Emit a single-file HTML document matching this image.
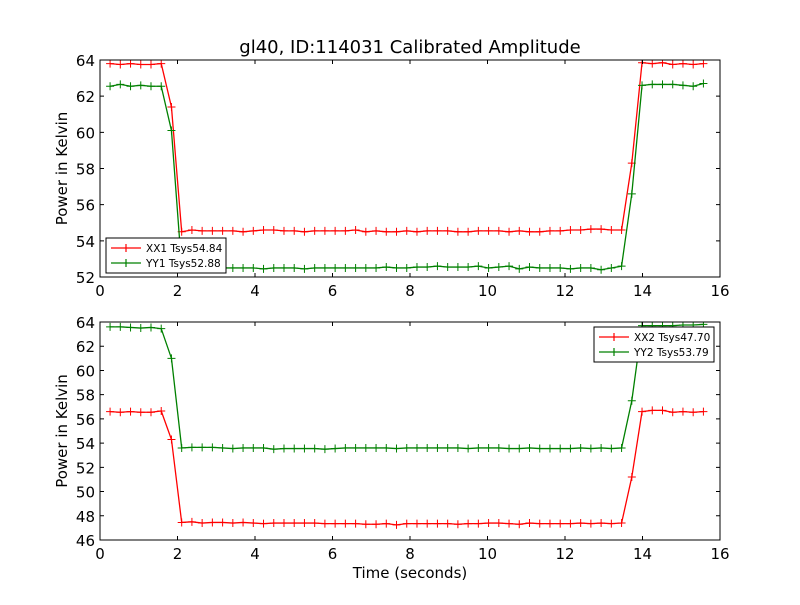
<!DOCTYPE html>
<html><head><meta charset="utf-8"><style>
html,body{margin:0;padding:0;background:#fff}
svg text{font-family:"DejaVu Sans","Liberation Sans",sans-serif}
</style></head><body>
<svg id="fig" width="800" height="600" viewBox="0 0 800 600" xmlns="http://www.w3.org/2000/svg">
<rect width="800" height="600" fill="#fff"/>
<text x="410" y="53" font-size="18" text-anchor="middle">gl40, ID:114031 Calibrated Amplitude</text>
<text x="410" y="578" font-size="15" text-anchor="middle">Time (seconds)</text>
<g id="top"></g><g id="bot"></g>
</svg>
<script>
const period = 0.264, t0 = 0.26;
const xx1 = [63.8,63.75,63.8,63.75,63.75,63.8,61.4,
54.5,54.6,54.55,54.55,54.55,54.55,54.5,54.55,54.6,54.6,54.55,54.55,54.5,54.55,54.55,54.55,54.55,54.6,54.5,54.55,54.5,54.5,54.55,54.5,54.55,54.55,54.55,54.5,54.5,54.55,54.55,54.55,54.5,54.55,54.5,54.5,54.55,54.55,54.6,54.6,54.65,54.65,54.6,54.6,
58.3,63.85,63.8,63.85,63.75,63.8,63.75,63.8];
const yy1 = [62.55,62.65,62.55,62.6,62.55,62.55,60.1,
52.5,52.55,52.5,52.55,52.5,52.5,52.5,52.5,52.45,52.5,52.5,52.5,52.45,52.5,52.5,52.5,52.5,52.5,52.5,52.5,52.55,52.5,52.5,52.55,52.55,52.6,52.55,52.55,52.55,52.6,52.5,52.55,52.6,52.45,52.55,52.5,52.5,52.5,52.45,52.5,52.5,52.4,52.5,
52.6,56.6,62.6,62.65,62.65,62.65,62.6,62.55,62.7];
const xx2 = [56.6,56.55,56.6,56.55,56.55,56.65,54.3,
47.45,47.5,47.4,47.45,47.45,47.4,47.45,47.4,47.35,47.4,47.4,47.4,47.4,47.4,47.35,47.35,47.35,47.35,47.3,47.3,47.35,47.25,47.35,47.35,47.35,47.35,47.35,47.3,47.35,47.35,47.4,47.4,47.35,47.3,47.4,47.35,47.35,47.35,47.35,47.4,47.35,47.4,47.35,47.4,
51.2,56.6,56.7,56.7,56.55,56.6,56.55,56.6];
const yy2 = [63.6,63.6,63.55,63.5,63.55,63.45,61.0,
53.6,53.65,53.65,53.65,53.6,53.55,53.6,53.6,53.6,53.5,53.55,53.55,53.55,53.55,53.5,53.55,53.6,53.6,53.6,53.6,53.6,53.55,53.6,53.6,53.6,53.6,53.6,53.6,53.55,53.6,53.6,53.6,53.55,53.55,53.6,53.55,53.55,53.55,53.55,53.6,53.55,53.6,53.55,53.6,
57.5,63.7,63.7,63.7,63.7,63.75,63.75,63.8];
const xTicks = [0,2,4,6,8,10,12,14,16];
const yTicksTop = [52,54,56,58,60,62,64];
const yTicksBot = [46,48,50,52,54,56,58,60,62,64];
const NS='http://www.w3.org/2000/svg';
function mk(tag, attrs, parent){const e=document.createElementNS(NS,tag);for(const k in attrs)e.setAttribute(k,attrs[k]);parent.appendChild(e);return e;}
function panel(g, top, bottom, ymin, ymax, yTicks, series, legend, name){
  const L=100,R=720;
  const sx=v=>L+(v-0)/16*(R-L), sy=v=>bottom-(v-ymin)/(ymax-ymin)*(bottom-top);
  const cid='clip'+name;
  const cp=mk('clipPath',{id:cid},g); mk('rect',{x:L,y:top,width:R-L,height:bottom-top},cp);
  series.forEach(s=>{
    const pts=s.vals.map((v,i)=>[sx(t0+i*period),sy(v)]);
    const pl=mk('polyline',{points:pts.map(p=>p.join(',')).join(' '),fill:'none',stroke:s.color,'stroke-width':1.3,'clip-path':`url(#${cid})`},g);
    
    
    let d='';pts.forEach(p=>{d+=`M${p[0]-4},${p[1]}h8M${p[0]},${p[1]-4}v8`;});
    const mp=mk('path',{d:d,stroke:s.color,'stroke-width':1,'clip-path':`url(#${cid})`},g);
    
    
  });
  const fr=mk('rect',{x:L,y:top,width:R-L,height:bottom-top,fill:'none',stroke:'#000','stroke-width':1},g);
  
  
  xTicks.forEach(v=>{const x=sx(v);
    mk('path',{d:`M${x},${bottom}v-4M${x},${top}v4`,stroke:'#000'},g);
    const t=mk('text',{x:x,y:bottom+19,'font-size':15,'text-anchor':'middle'},g);t.textContent=v;
    
    });
  yTicks.forEach(v=>{const y=sy(v);
    mk('path',{d:`M${L},${y}h4M${R},${y}h-4`,stroke:'#000'},g);
    const t=mk('text',{x:L-5,y:y+6,'font-size':15,'text-anchor':'end'},g);t.textContent=v;
    
    });
  const yl=mk('text',{x:0,y:0,'font-size':15,'text-anchor':'middle',transform:`translate(67,${(top+bottom)/2}) rotate(-90)`},g);
  yl.textContent='Power in Kelvin';
  
  
  const lg=mk('g',{},g);
  
  
  mk('rect',{x:legend.x,y:legend.y,width:120,height:35,fill:'#fff',stroke:'#000','stroke-width':1},lg);
  series.forEach((s,i)=>{const y=legend.y+10+i*15;
    mk('path',{d:`M${legend.x+5},${y}h30M${legend.x+20},${y-4}v8`,stroke:s.color,'stroke-width':1.2},lg);
    const t=mk('text',{x:legend.x+40,y:y+4,'font-size':10.5},lg);t.textContent=s.label;
    
    });
}
panel(document.getElementById('top'),60,277,52,64,yTicksTop,
 [{vals:xx1,color:'#ff0000',label:'XX1 Tsys54.84',name:'xx1'},{vals:yy1,color:'#008000',label:'YY1 Tsys52.88',name:'yy1'}],{x:106,y:238},'top');
panel(document.getElementById('bot'),322,540,46,64,yTicksBot,
 [{vals:xx2,color:'#ff0000',label:'XX2 Tsys47.70',name:'xx2'},{vals:yy2,color:'#008000',label:'YY2 Tsys53.79',name:'yy2'}],{x:594,y:327},'bottom');
</script>
</body></html>
